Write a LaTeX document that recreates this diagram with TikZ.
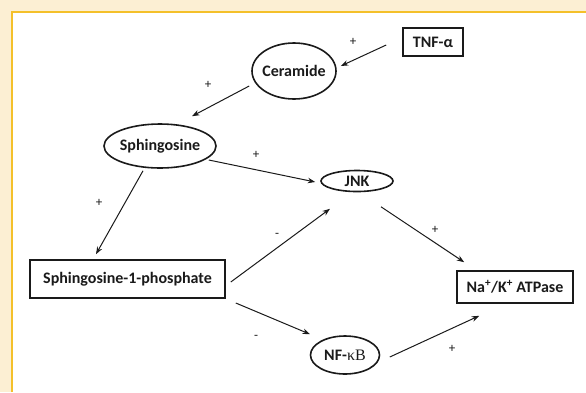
\documentclass[tikz,border=0pt]{standalone}
\usepackage{fontspec}
\setmainfont{Carlito}
\newfontfamily\kappafont{Liberation Serif}
\usetikzlibrary{shapes.geometric,arrows.meta,calc}
\definecolor{cream}{HTML}{FCEFD3}
\definecolor{frameyellow}{HTML}{F4C02A}
\definecolor{ink}{HTML}{1A1A1A}
\begin{document}
\begin{tikzpicture}[x=1pt,y=-1pt,
  lbl/.style={font=\fontsize{16}{19}\selectfont\bfseries, text=ink},
  boxnode/.style={lbl, draw=ink, rectangle, line width=1.6pt, inner sep=0pt},
  ovalnode/.style={lbl, draw=ink, ellipse, line width=1.6pt, inner sep=0pt},
  arr/.style={draw=ink, line width=1pt, -{Stealth[length=7.5pt,width=5.5pt]}},
  sign/.style={font=\fontsize{13}{15}\selectfont, text=ink, inner sep=0pt}]
\useasboundingbox (0,0) rectangle (586,392);
\fill[cream] (0,0) rectangle (586,392);
\fill[white] (12,12) rectangle (586,392);
\draw[frameyellow, line width=2.5pt] (12,392) -- (12,12) -- (586,12);

\node[boxnode, minimum width=60pt, minimum height=28pt] (tnf) at (433,42) {TNF-α};
\node[ovalnode, minimum width=84pt, minimum height=56pt] (cer) at (294,71) {\makebox[0pt]{Ceramide}};
\node[ovalnode, minimum width=112pt, minimum height=44pt] (sph) at (160,146) {\makebox[0pt]{Sphingosine}};
\node[ovalnode, minimum width=72pt, minimum height=21pt] (jnk) at (357,181) {\makebox[0pt]{JNK}};
\node[boxnode, minimum width=195pt, minimum height=38pt] (s1p) at (127.5,279) {Sphingosine-1-phosphate};
\node[ovalnode, minimum width=69pt, minimum height=38pt] (nfkb) at (345,355) {\makebox[0pt]{NF-{\kappafont\mdseries κB}}};
\node[boxnode, minimum width=116pt, minimum height=32pt] (nak) at (515,287) {Na\textsuperscript{+}/K\textsuperscript{+} ATPase};

\draw[arr] ($(tnf.west)+(-16,3)$) -- ($(cer.east)+(4,-5)$);
\draw[arr] ($(cer.west)+(-2,15)$) -- ($(sph.north)+(32,-7)$);
\draw[arr] ($(sph.east)+(-8,14)$) -- ($(jnk.west)+(-5,1)$);
\draw[arr] ($(sph.south)+(-17,2)$) -- ($(s1p.north)+(-31.5,-5)$);
\draw[arr] ($(s1p.east)+(5,3)$) -- ($(jnk.south)+(-27,16.5)$);
\draw[arr] ($(s1p.east)+(10,24)$) -- ($(nfkb.north)+(-35,-1)$);
\draw[arr] ($(jnk.south)+(24,14.5)$) -- ($(nak.north west)+(8,-8)$);
\draw[arr] ($(nfkb.east)+(9.5,2)$) -- ($(nak.south west)+(23,12)$);

\node[sign] (s1) at (353,42) {+};
\node[sign] (s2) at (208,85) {+};
\node[sign] (s3) at (256,155) {+};
\node[sign] (s4) at (99,203) {+};
\node[sign] (s5) at (277,235) {-};
\node[sign] (s6) at (435,230) {+};
\node[sign] (s7) at (256,337) {-};
\node[sign] (s8) at (452,349) {+};
\end{tikzpicture}
\end{document}
